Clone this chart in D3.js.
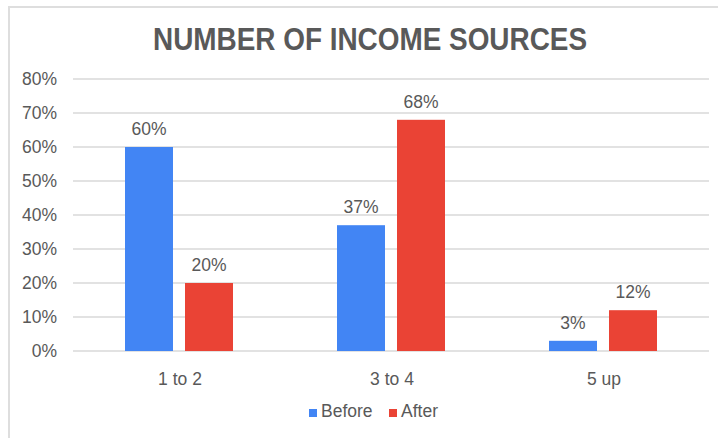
<!DOCTYPE html>
<html>
<head>
<meta charset="utf-8">
<script src="https://cdn.jsdelivr.net/npm/d3@7"></script>
<style>
  body { margin: 0; background: #fff; }
  text { font-family: "Liberation Sans", Arial, sans-serif; }
</style>
</head>
<body>
<div id="chart"></div>
<script>
const width = 718,
    height = 438;

// data
const categories = ['1 to 2', '3 to 4', '5 up'];
const seriesNames = ['Before', 'After'];
const before = [60, 37, 3];
const after = [20, 68, 12];
const yTicks = [0, 10, 20, 30, 40, 50, 60, 70, 80];
const colors = ['#4285f4', '#ea4335'];

const fontSize = 17.5;

const svg = d3.select('#chart')
    .append('svg')
    .attr('width', width)
    .attr('height', height);

// outer frame
svg.append('rect')
    .attr('x', 9)
    .attr('y', 7)
    .attr('width', 720)
    .attr('height', 440)
    .attr('fill', 'none')
    .attr('stroke', '#dedede')
    .attr('stroke-width', 2);

// title
svg.append('text')
    .attr('x', 370)
    .attr('y', 50)
    .attr('text-anchor', 'middle')
    .attr('font-size', 31)
    .attr('font-weight', 'bold')
    .attr('fill', '#595959')
    .attr('textLength', 434)
    .attr('lengthAdjust', 'spacingAndGlyphs')
    .text('NUMBER OF INCOME SOURCES');

const plotLeft = 73, plotRight = 709, plotTop = 79, plotBottom = 351;

const x = d3.scaleBand()
    .domain(categories)
    .range([plotLeft, plotRight])
    .paddingInner(0)
    .paddingOuter(0);

const x1 = d3.scaleBand()
    .domain(seriesNames)
    .range([52, x.bandwidth() - 52])
    .paddingInner(0.2);

const y = d3.scaleLinear()
    .domain([0, 80])
    .range([plotBottom, plotTop]);

// gridlines
svg.append('g')
    .selectAll('line')
    .data(yTicks)
    .enter()
    .append('line')
    .attr('x1', plotLeft)
    .attr('x2', plotRight)
    .attr('y1', d => y(d))
    .attr('y2', d => y(d))
    .attr('stroke', '#d9d9d9')
    .attr('stroke-width', 1.5);

// y axis labels
const yAxis = d3.axisLeft(y)
    .tickValues(yTicks)
    .tickSize(0)
    .tickPadding(0)
    .tickFormat(d => d + '%');

svg.append('g')
    .attr('transform', 'translate(57,0)')
    .call(yAxis)
    .call(g => g.select('.domain').remove())
    .selectAll('text')
    .attr('font-size', fontSize)
    .attr('fill', '#595959')
    .attr('font-family', '"Liberation Sans", Arial, sans-serif');

// x axis labels
const xAxis = d3.axisBottom(x).tickSize(0).tickPadding(0);
svg.append('g')
    .attr('transform', 'translate(1,' + (plotBottom + 22) + ')')
    .call(xAxis)
    .call(g => g.select('.domain').remove())
    .selectAll('text')
    .attr('font-size', fontSize)
    .attr('fill', '#595959')
    .attr('font-family', '"Liberation Sans", Arial, sans-serif');

// bars
const rows = categories.map(function(c, i) {
    return { name: c, values: [before[i], after[i]] };
});

const groups = svg.append('g')
    .selectAll('g')
    .data(rows)
    .enter()
    .append('g')
    .attr('transform', d => 'translate(' + x(d.name) + ',0)');

groups.selectAll('rect')
    .data(d => d.values.map((v, j) => ({ key: seriesNames[j], value: v, j: j })))
    .enter()
    .append('rect')
    .attr('x', d => x1(d.key))
    .attr('y', d => y(d.value))
    .attr('width', x1.bandwidth())
    .attr('height', d => plotBottom - y(d.value))
    .attr('fill', d => colors[d.j]);

groups.selectAll('text')
    .data(d => d.values.map((v, j) => ({ key: seriesNames[j], value: v })))
    .enter()
    .append('text')
    .attr('x', d => x1(d.key) + x1.bandwidth() / 2)
    .attr('y', d => y(d.value) - 12)
    .attr('text-anchor', 'middle')
    .attr('font-size', fontSize)
    .attr('fill', '#595959')
    .text(d => d.value + '%');

// legend
const legendX = [309, 389];
const legend = svg.append('g')
    .selectAll('g')
    .data(seriesNames)
    .enter()
    .append('g')
    .attr('transform', (d, i) => 'translate(' + legendX[i] + ',409)');

legend.append('rect')
    .attr('width', 8)
    .attr('height', 8)
    .attr('fill', (d, i) => colors[i]);

legend.append('text')
    .attr('x', 12)
    .attr('y', 8)
    .attr('font-size', fontSize)
    .attr('fill', '#595959')
    .text(d => d);
</script>
</body>
</html>
